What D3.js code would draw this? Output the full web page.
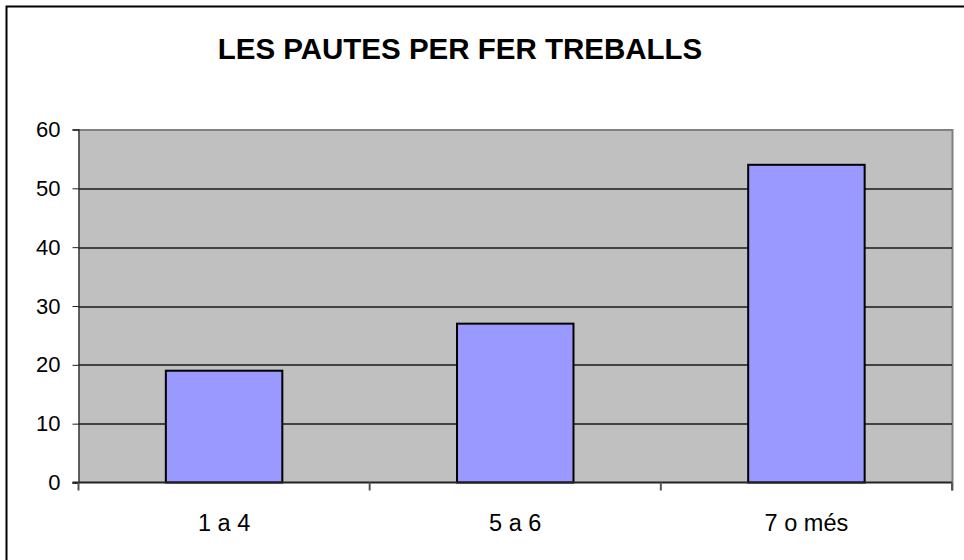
<!doctype html>
<html>
<head>
	<meta charset="utf-8">
	<title>Les pautes per fer treballs</title>
	<script src="https://d3js.org/d3.v7.min.js"></script>
	<style>
	body{ margin:0; background:#fff; }
	svg{ display:block; font-family:"Liberation Sans", Arial, sans-serif; }
	</style>
</head>
<body>
<svg id="chart" width="964" height="560"></svg>
<script>

// chart values
var categories = ["1 a 4", "5 a 6", "7 o més"];
var values = [19, 27, 54];
var yTicks = [0, 10, 20, 30, 40, 50, 60];
var title = "LES PAUTES PER FER TREBALLS";

var svg = d3.select("#chart");

var margin = {top: 129.5, right: 12, bottom: 77.5, left: 78.5},
    width = 964 - margin.left - margin.right,
    height = 560 - margin.top - margin.bottom;

// outer frame
svg.append("rect")
    .attr("x", 6.5).attr("y", 6.5)
    .attr("width", 962).attr("height", 558)
    .attr("fill", "none")
    .attr("stroke", "#000")
    .attr("stroke-width", 2);

svg.append("text")
    .attr("x", 460).attr("y", 59)
    .attr("text-anchor", "middle")
    .attr("font-size", 29.5)
    .attr("font-weight", "bold")
    .text(title);

var g = svg.append("g").attr("transform", "translate(" + margin.left + "," + margin.top + ")");

var x = d3.scaleBand()
    .domain(categories)
    .range([0, width])
    .paddingInner(0.6)
    .paddingOuter(0.3);

var y = d3.scaleLinear()
    .domain([0, 60])
    .range([height, 0]);

// plot area
g.append("rect")
    .attr("width", width).attr("height", height)
    .attr("fill", "#c0c0c0");

// shadow edges on top/right
g.append("path")
    .attr("d", "M0,0.5H" + (width + 0.5) + "V" + (height + 8))
    .attr("fill", "none")
    .attr("stroke", "#808080")
    .attr("stroke-width", 2);

// gridlines
g.selectAll(".grid")
    .data(yTicks.filter(function(d) { return d > 0 && d < 60; }))
    .enter().append("line")
    .attr("x1", 0).attr("x2", width)
    .attr("y1", function(d) { return Math.round(y(d)) + 0.5; })
    .attr("y2", function(d) { return Math.round(y(d)) + 0.5; })
    .attr("stroke", "#1a1a1a")
    .attr("stroke-width", 1.3);

// bars
g.selectAll(".bar")
    .data(values)
    .enter().append("rect")
    .attr("x", function(d, i) { return x(categories[i]); })
    .attr("y", function(d) { return y(d); })
    .attr("width", x.bandwidth())
    .attr("height", function(d) { return height - y(d); })
    .attr("fill", "#9999ff")
    .attr("stroke", "#000")
    .attr("stroke-width", 2);

// y axis
var yAxis = g.append("g")
    .call(d3.axisLeft(y).tickValues(yTicks).tickSize(6).tickPadding(12));
yAxis.select(".domain").attr("stroke", "#222").attr("stroke-width", 1.3);
yAxis.selectAll(".tick line").attr("stroke", "#222");
yAxis.selectAll("text")
    .attr("font-size", 22)
    .attr("font-family", "Liberation Sans, Arial, sans-serif")
    .attr("fill", "#000");

// x axis: ticks at category boundaries
var boundaries = [0].concat(categories.map(function(c) { return x(c) + x.bandwidth() + x.step() * 0.3; }));
var xAxisG = g.append("g").attr("transform", "translate(0," + height + ")");
xAxisG.append("line")
    .attr("x1", -6).attr("x2", width)
    .attr("stroke", "#222").attr("stroke-width", 2);
xAxisG.selectAll(".xtick")
    .data(boundaries)
    .enter().append("line")
    .attr("x1", function(d) { return d; })
    .attr("x2", function(d) { return d; })
    .attr("y1", 0).attr("y2", 8)
    .attr("stroke", "#555").attr("stroke-width", 2);
xAxisG.selectAll(".xlabel")
    .data(categories)
    .enter().append("text")
    .attr("x", function(d) { return x(d) + x.bandwidth() / 2; })
    .attr("y", 48)
    .attr("text-anchor", "middle")
    .attr("font-size", 23.5)
    .text(function(d) { return d; });

</script>
</body>
</html>
